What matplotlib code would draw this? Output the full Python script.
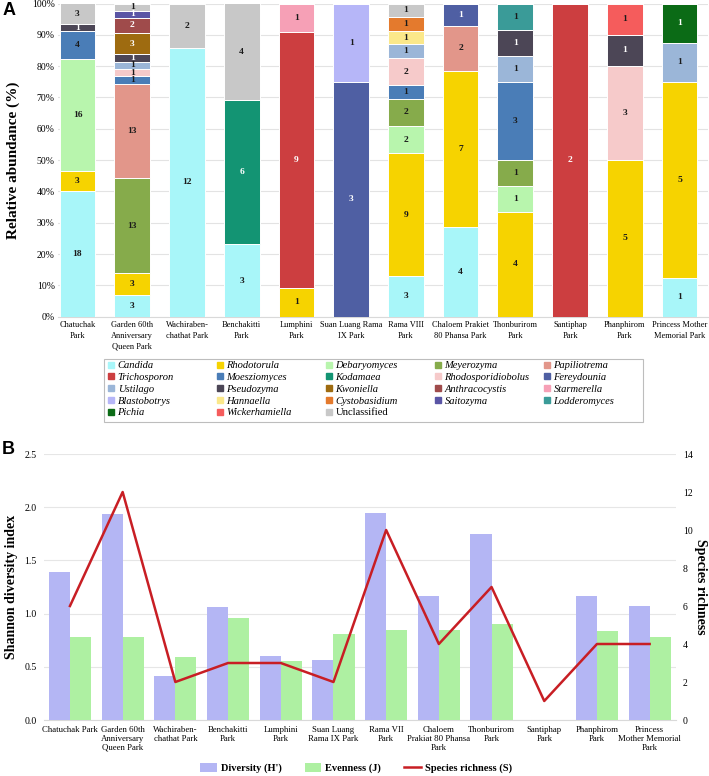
import numpy as np
import matplotlib
matplotlib.use("Agg")
import matplotlib.pyplot as plt
from matplotlib.patches import Patch, Rectangle
from matplotlib.lines import Line2D

plt.rcParams['font.family'] = ['Liberation Serif', 'DejaVu Serif']

# ---------------- data ----------------
parks_a = ["Chatuchak\nPark", "Garden 60th\nAnniversary\nQueen Park", "Wachiraben-\nchathat Park",
           "Benchakitti\nPark", "Lumphini\nPark", "Suan Luang Rama\nIX Park", "Rama VIII\nPark",
           "Chaloem Prakiet\n80 Phansa Park", "Thonburirom\nPark", "Santiphap\nPark",
           "Phanphirom\nPark", "Princess Mother\nMemorial Park"]
parks_b = ["Chatuchak Park", "Garden 60th\nAnniversary\nQueen Park", "Wachiraben-\nchathat Park",
           "Benchakitti\nPark", "Lumphini\nPark", "Suan Luang\nRama IX Park", "Rama VII\nPark",
           "Chaloem\nPrakiat 80 Phansa\nPark", "Thonburirom\nPark", "Santiphap\nPark",
           "Phanphirom\nPark", "Princess\nMother Memorial\nPark"]

genera = ["Candida", "Rhodotorula", "Debaryomyces", "Meyerozyma", "Papiliotrema",
          "Trichosporon", "Moesziomyces", "Kodamaea", "Rhodosporidiobolus", "Fereydounia",
          "Ustilago", "Pseudozyma", "Kwoniella", "Anthracocystis", "Starmerella",
          "Blastobotrys", "Hannaella", "Cystobasidium", "Saitozyma", "Lodderomyces",
          "Pichia", "Wickerhamiella", "Unclassified"]

candida            = [18, 3, 12, 3, 0, 0, 3, 4, 0, 0, 0, 1]
rhodotorula        = [3, 3, 0, 0, 1, 0, 9, 7, 4, 0, 5, 5]
debaryomyces       = [16, 0, 0, 0, 0, 0, 2, 0, 1, 0, 0, 0]
meyerozyma         = [0, 13, 0, 0, 0, 0, 2, 0, 1, 0, 0, 0]
papiliotrema       = [0, 13, 0, 0, 0, 0, 0, 2, 0, 0, 0, 0]
trichosporon       = [0, 0, 0, 0, 9, 0, 0, 0, 0, 2, 0, 0]
moesziomyces       = [4, 1, 0, 0, 0, 0, 1, 0, 3, 0, 0, 0]
kodamaea           = [0, 0, 0, 6, 0, 0, 0, 0, 0, 0, 0, 0]
rhodosporidiobolus = [0, 1, 0, 0, 0, 0, 2, 0, 0, 0, 3, 0]
fereydounia        = [0, 0, 0, 0, 0, 3, 0, 1, 0, 0, 0, 0]
ustilago           = [0, 1, 0, 0, 0, 0, 1, 0, 1, 0, 0, 1]
pseudozyma         = [1, 1, 0, 0, 0, 0, 0, 0, 1, 0, 1, 0]
kwoniella          = [0, 3, 0, 0, 0, 0, 0, 0, 0, 0, 0, 0]
anthracocystis     = [0, 2, 0, 0, 0, 0, 0, 0, 0, 0, 0, 0]
starmerella        = [0, 0, 0, 0, 1, 0, 0, 0, 0, 0, 0, 0]
blastobotrys       = [0, 0, 0, 0, 0, 1, 0, 0, 0, 0, 0, 0]
hannaella          = [0, 0, 0, 0, 0, 0, 1, 0, 0, 0, 0, 0]
cystobasidium      = [0, 0, 0, 0, 0, 0, 1, 0, 0, 0, 0, 0]
saitozyma          = [0, 1, 0, 0, 0, 0, 0, 0, 0, 0, 0, 0]
lodderomyces       = [0, 0, 0, 0, 0, 0, 0, 0, 1, 0, 0, 0]
pichia             = [0, 0, 0, 0, 0, 0, 0, 0, 0, 0, 0, 1]
wickerhamiella     = [0, 0, 0, 0, 0, 0, 0, 0, 0, 0, 1, 0]
unclassified       = [3, 1, 2, 4, 0, 0, 1, 0, 0, 0, 0, 0]

counts = [candida, rhodotorula, debaryomyces, meyerozyma, papiliotrema, trichosporon,
          moesziomyces, kodamaea, rhodosporidiobolus, fereydounia, ustilago, pseudozyma,
          kwoniella, anthracocystis, starmerella, blastobotrys, hannaella, cystobasidium,
          saitozyma, lodderomyces, pichia, wickerhamiella, unclassified]

colors = ["#a8f6f9", "#f6d300", "#b8f5ad", "#86ab4b", "#e2968a", "#cc3e40", "#4a7db7",
          "#139473", "#f6caca", "#4f5fa3", "#9bb6d8", "#4c4656", "#9e6b10", "#9f4b4b",
          "#f6a0b6", "#b6b6f8", "#fbe88a", "#e47a2d", "#5a55a5", "#3a9b98", "#0b6b16",
          "#f55c5c", "#c8c8c8"]
white_text = {"Trichosporon", "Kodamaea", "Fereydounia", "Pseudozyma", "Kwoniella",
              "Anthracocystis", "Saitozyma", "Pichia"}

diversity = [1.39, 1.94, 0.41, 1.06, 0.60, 0.56, 1.95, 1.17, 1.75, 0.0, 1.17, 1.07]
evenness  = [0.78, 0.78, 0.59, 0.96, 0.55, 0.81, 0.85, 0.85, 0.90, 0.0, 0.84, 0.78]
richness  = [6, 12, 2, 3, 3, 2, 10, 4, 7, 1, 4, 4]

# ---------------- figure ----------------
W, H = 709, 776
fig = plt.figure(figsize=(W / 100, H / 100), dpi=100)

def fx(px):
    return px / W

def fy(py):
    return 1 - py / H

# ---- Panel A ----
axA = fig.add_axes([fx(57.5), fy(316.7), fx(708) - fx(57.5), fy(3.5) - fy(316.7)])
x = np.arange(len(parks_a))
data = np.array(counts, dtype=float)
totals = data.sum(axis=0)
bottom = np.zeros(len(parks_a))
for g, row, c in zip(genera, data, colors):
    pct = row / totals * 100
    axA.bar(x, pct, bottom=bottom, width=0.652, color=c, edgecolor='white',
            linewidth=0.7, zorder=3)
    tc = 'white' if g in white_text else '#1a1a1a'
    for i in range(len(x)):
        if row[i] > 0:
            axA.text(x[i], bottom[i] + pct[i] / 2, f"{int(row[i])}", ha='center',
                     va='center', fontsize=6.8, fontweight='bold', color=tc, zorder=4)
    bottom += pct

axA.set_xlim(-0.365, 11.52)
axA.set_ylim(0, 100)
axA.set_yticks(np.arange(0, 101, 10))
axA.set_yticklabels([f"{v}%" for v in range(0, 101, 10)], fontsize=7)
axA.set_xticks(x)
axA.set_xticklabels(parks_a, fontsize=6, linespacing=1.45)
axA.tick_params(axis='both', length=0)
axA.tick_params(axis='x', pad=3)
axA.tick_params(axis='y', pad=2)
axA.grid(axis='y', color='#e3e3e3', linewidth=0.8, zorder=0)
for s in ['top', 'right', 'left']:
    axA.spines[s].set_visible(False)
axA.spines['bottom'].set_color('#d9d9d9')

fig.text(fx(13), fy(160), "Relative abundance (%)", rotation=90, ha='center', va='center',
         fontsize=11, fontweight='bold')
fig.text(fx(3), fy(2), "A", ha='left', va='top', fontsize=13, fontweight='bold',
         family=['Liberation Sans', 'DejaVu Sans'])

# legend A (5 equally spaced columns)
ncol = 5
col_x = [107 + 109 * j for j in range(ncol)]
for j in range(ncol):
    idx = list(range(j, len(genera), ncol))
    handles = [Line2D([0], [0], marker='s', linestyle='none', markersize=3.8,
                      markerfacecolor=colors[k], markeredgecolor=colors[k]) for k in idx]
    labels = [genera[k] for k in idx]
    leg = fig.legend(handles, labels, loc='upper left',
                     bbox_to_anchor=(fx(col_x[j]), fy(361)), frameon=False,
                     borderpad=0, borderaxespad=0, handlelength=0.7, handletextpad=0.3,
                     labelspacing=0.22, prop={'size': 7.6, 'style': 'italic'})
    for t in leg.get_texts():
        if t.get_text() == "Unclassified":
            t.set_fontstyle('normal')
fig.add_artist(Rectangle((fx(104), fy(422)), fx(643) - fx(104), fy(359) - fy(422),
                         transform=fig.transFigure, fill=False, edgecolor='#bdbdbd',
                         linewidth=0.8))

# ---- Panel B ----
axB = fig.add_axes([fx(43.6), fy(720), fx(676) - fx(43.6), fy(454) - fy(720)])
xb = np.arange(len(parks_b))
bw = 0.4
axB.bar(xb - bw / 2, diversity, width=bw, color='#b4b6f4', zorder=3)
axB.bar(xb + bw / 2, evenness, width=bw, color='#aef0a2', zorder=3)
axB.set_xlim(-0.5, 11.5)
axB.set_ylim(0, 2.5)
axB.set_yticks(np.arange(0, 2.51, 0.5))
axB.set_yticklabels([f"{v:.1f}" for v in np.arange(0, 2.51, 0.5)], fontsize=7)
axB.set_xticks(xb)
axB.set_xticklabels(parks_b, fontsize=6.3, linespacing=1.2)
axB.tick_params(axis='both', length=0)
axB.tick_params(axis='x', pad=4)
axB.tick_params(axis='y', pad=5)
axB.grid(axis='y', color='#e6e6e6', linewidth=0.8, zorder=0)
for s in ['top', 'right', 'left']:
    axB.spines[s].set_visible(False)
axB.spines['bottom'].set_color('#d9d9d9')

axB2 = axB.twinx()
axB2.plot(xb, richness, color='#c81e24', linewidth=1.8, zorder=5)
axB2.set_ylim(0, 14)
axB2.set_yticks(np.arange(0, 15, 2))
axB2.set_yticklabels([str(v) for v in range(0, 15, 2)], fontsize=7)
axB2.tick_params(axis='y', length=0, pad=5)
for s in ['top', 'right', 'left', 'bottom']:
    axB2.spines[s].set_visible(False)

fig.text(fx(12), fy(587), "Shannon diversity index", rotation=90, ha='center', va='center',
         fontsize=10, fontweight='bold')
fig.text(fx(701), fy(587), "Species richness", rotation=-90, ha='center', va='center',
         fontsize=10, fontweight='bold')
fig.text(fx(2), fy(441), "B", ha='left', va='top', fontsize=13, fontweight='bold',
         family=['Liberation Sans', 'DejaVu Sans'])

hb = [Patch(facecolor='#b4b6f4'), Patch(facecolor='#aef0a2'),
      Line2D([0], [0], color='#c81e24', linewidth=1.8)]
fig.legend(hb, ["Diversity (H')", "Evenness (J)", "Species richness (S)"], loc='center',
           bbox_to_anchor=(fx(356), fy(768)), ncol=3, frameon=False,
           prop={'size': 7.5, 'weight': 'bold'}, handlelength=1.6, handleheight=0.9,
           handletextpad=0.4, columnspacing=2.2, borderpad=0)

fig.savefig("out.png", dpi=100)
